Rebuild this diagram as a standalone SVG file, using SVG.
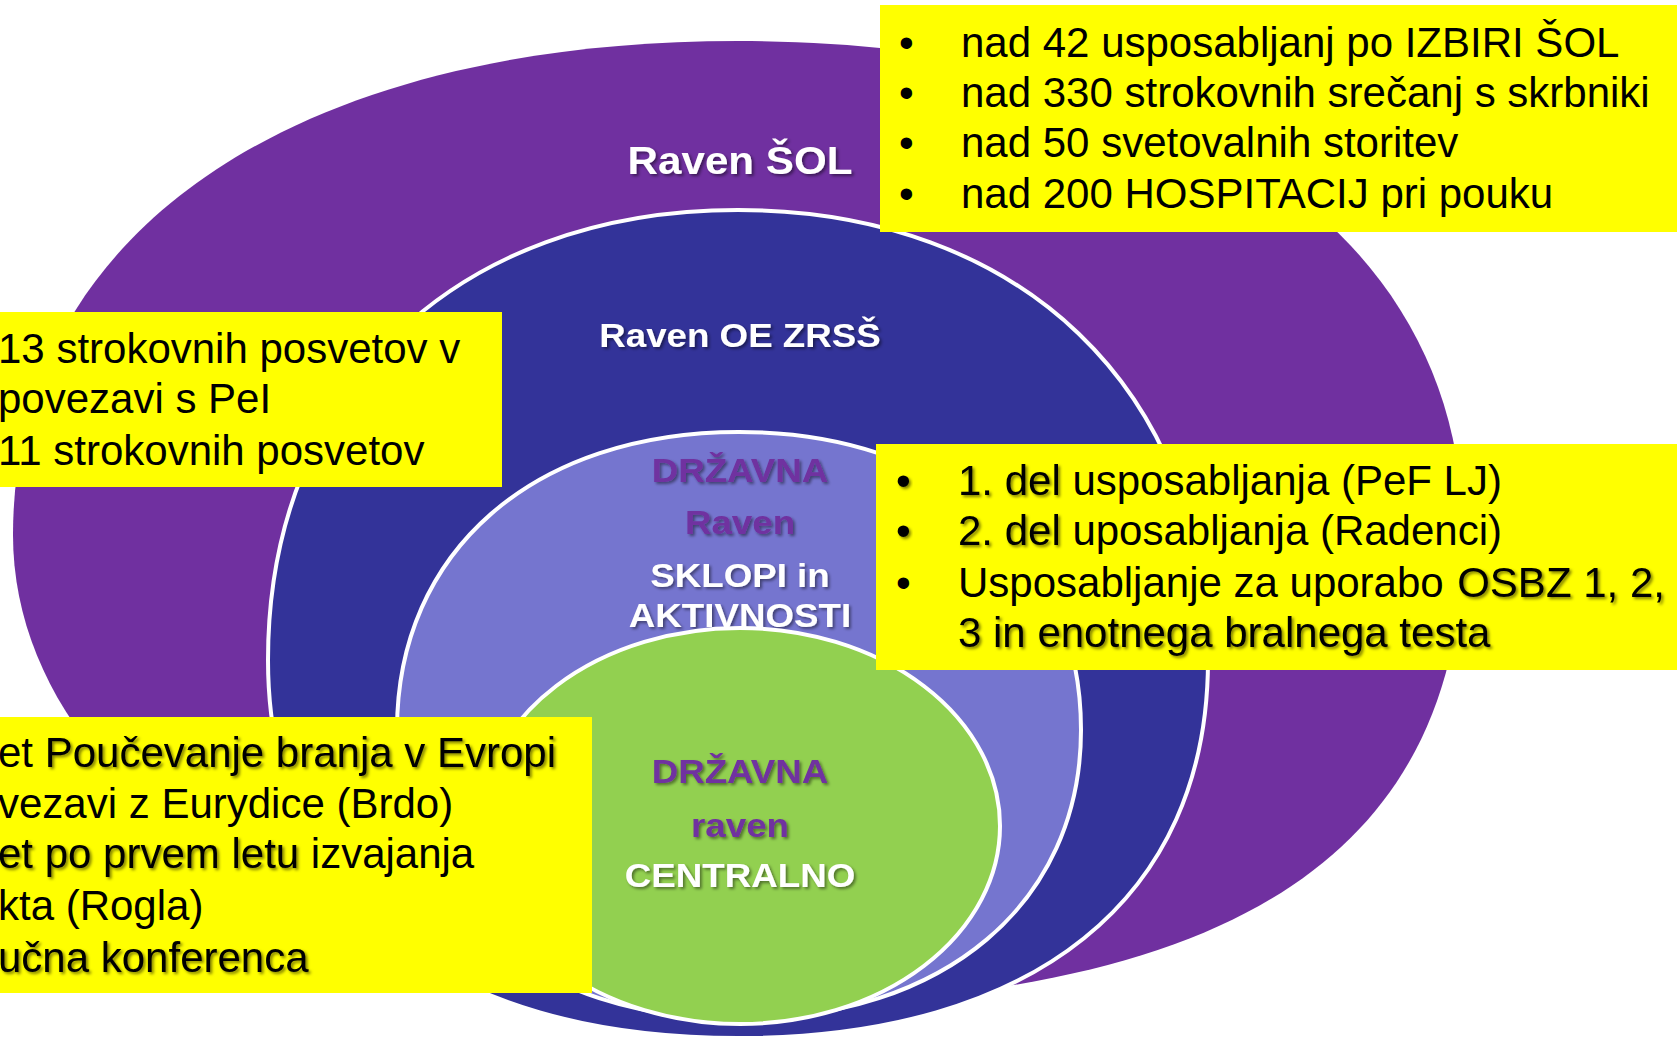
<svg xmlns="http://www.w3.org/2000/svg" width="1677" height="1042" viewBox="0 0 1677 1042">
<defs>
<style>
.lbl{font-family:"Liberation Sans",Arial,sans-serif;font-weight:bold;font-size:34px;text-anchor:middle}
.w{fill:#ffffff}
.p{fill:#7030A0}
.bx{font-family:"Liberation Sans",Arial,sans-serif;font-size:42px;fill:#000}
.ring{stroke:#ffffff;stroke-width:4}
.yel{fill:#FFFF00}
</style>
<filter id="ds" x="-10%" y="-30%" width="120%" height="160%">
<feDropShadow dx="2" dy="2" stdDeviation="1.5" flood-color="#000" flood-opacity="0.45"/>
</filter>
<filter id="sh" x="-10%" y="-30%" width="120%" height="160%">
<feDropShadow dx="2" dy="2" stdDeviation="1.6" flood-color="#000" flood-opacity="0.5"/>
</filter>
</defs>
<rect width="1677" height="1042" fill="#ffffff"/>

<g id="level-sol">
<path d="M13,535 C13,232 294,41 738,41 C1182,41 1463,232 1463,535 C1463,855 1231,1005 738,1005 C338,1005 13,795 13,535 Z" fill="#7030A0"/>
<text class="lbl w" filter="url(#ds)" transform="translate(740,174) scale(1.11,1)" style="font-size:38px">Raven ŠOL</text>
</g>

<g id="level-oe">
<path class="ring" d="M268,660 C268,390 456,210 738,210 C1020,210 1208,390 1208,660 C1208,898 1034,1038 738,1038 C442,1038 268,898 268,660 Z" fill="#333399"/>
<text class="lbl w" filter="url(#ds)" transform="translate(740,347) scale(1.08,1)">Raven OE ZRSŠ</text>
</g>

<g id="level-drzavna-sklopi">
<path class="ring" d="M397,730 C397,551 534,432 739,432 C944,432 1081,551 1081,730 C1081,903 944,1019 739,1019 C534,1019 397,903 397,730 Z" fill="#7575CF"/>
<g filter="url(#ds)">
<text class="lbl p" transform="translate(740,482) scale(1.08,1)">DRŽAVNA</text>
<text class="lbl p" transform="translate(740,534) scale(1.08,1)">Raven</text>
<text class="lbl w" transform="translate(740,587) scale(1.08,1)">SKLOPI in</text>
<text class="lbl w" transform="translate(740,627) scale(1.08,1)">AKTIVNOSTI</text>
</g>
</g>

<g id="level-centralno">
<ellipse class="ring" cx="740" cy="826" rx="260" ry="198" fill="#92D050"/>
<g filter="url(#ds)">
<text class="lbl p" transform="translate(740,783) scale(1.08,1)">DRŽAVNA</text>
<text class="lbl p" transform="translate(740,837) scale(1.08,1)">raven</text>
<text class="lbl w" transform="translate(740,887) scale(1.08,1)">CENTRALNO</text>
</g>
</g>

<g id="box-sol" class="bx">
<rect class="yel" x="880" y="5" width="797" height="227"/>
<text y="57"><tspan x="899">•</tspan><tspan x="961">nad 42 usposabljanj po IZBIRI ŠOL</tspan></text>
<text y="107"><tspan x="899">•</tspan><tspan x="961">nad 330 strokovnih srečanj s skrbniki</tspan></text>
<text y="157"><tspan x="899">•</tspan><tspan x="961">nad 50 svetovalnih storitev</tspan></text>
<text y="208"><tspan x="899">•</tspan><tspan x="961">nad 200 HOSPITACIJ pri pouku</tspan></text>
</g>

<g id="box-oe" class="bx">
<rect class="yel" x="0" y="312" width="502" height="175"/>
<text x="-2" y="363">13 strokovnih posvetov v</text>
<text x="-2" y="413">povezavi s PeI</text>
<text x="-2" y="465">11 strokovnih posvetov</text>
</g>

<g id="box-sklopi" class="bx">
<rect class="yel" x="876" y="444" width="801" height="226"/>
<text x="896" y="495" filter="url(#sh)">•</text>
<text x="958" y="495" filter="url(#sh)">1. del</text>
<text x="1072.4" y="495">usposabljanja (PeF LJ)</text>
<text x="896" y="545" filter="url(#sh)">•</text>
<text x="958" y="545" filter="url(#sh)">2. del</text>
<text x="1072.4" y="545">uposabljanja (Radenci)</text>
<text x="896" y="597">•</text>
<text x="958" y="597">Usposabljanje za uporabo</text>
<text x="1457.2" y="597" filter="url(#sh)">OSBZ 1, 2,</text>
<text x="958" y="647" filter="url(#sh)">3 in enotnega bralnega testa</text>
</g>

<g id="box-centralno" class="bx">
<rect class="yel" x="0" y="717" width="592" height="276"/>
<text x="-2" y="767">et</text>
<text x="44.7" y="767" filter="url(#sh)">Poučevanje branja v Evropi</text>
<text x="-2" y="818">vezavi z Eurydice (Brdo)</text>
<text x="-2" y="868" filter="url(#sh)">et po prvem letu</text>
<text x="310.8" y="868">izvajanja</text>
<text x="-2" y="920">kta (Rogla)</text>
<text x="-2" y="972" filter="url(#sh)">učna konferenca</text>
</g>
</svg>
